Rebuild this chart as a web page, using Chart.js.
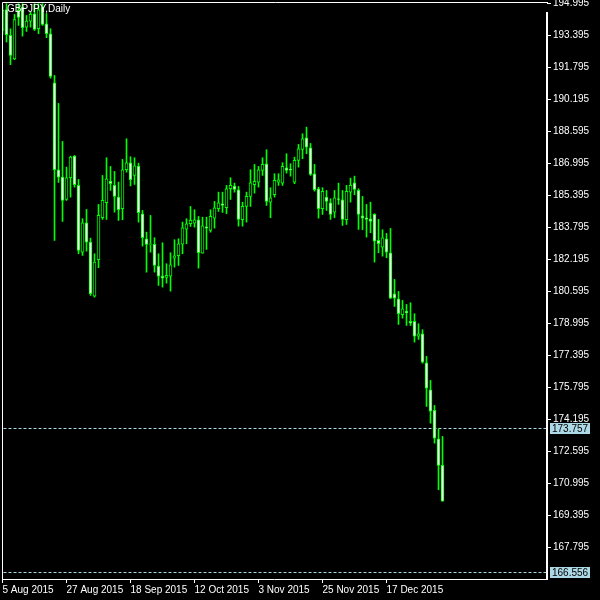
<!DOCTYPE html>
<html>
<head>
<meta charset="utf-8">
<title>GBPJPY Daily</title>
<script src="https://cdn.jsdelivr.net/npm/chart.js@4.4.1/dist/chart.umd.min.js"></script>
<style>
    html, body { margin: 0; padding: 0; background: #000; }
    canvas { display: block; }
</style>
</head>
<body>
<canvas id="price-chart" width="600" height="600"></canvas>
<script>
// Datos diarios GBPJPY
const symbolTitle = 'GBPJPY,Daily';

const openP = [
    193.66, 194.70, 193.41, 192.24, 194.66, 194.83, 193.825, 194.125, 194.495, 193.745,
    194.825, 193.995, 193.495, 191.045, 186.695, 186.325, 185.21, 186.295, 187.375, 185.91,
    182.575, 184.045, 183.075, 180.375, 182.195, 184.295, 185.045, 186.125, 185.91, 185.325,
    184.745, 186.695, 187.045, 186.41, 186.875, 184.495, 183.245, 182.96, 182.96, 181.875,
    181.375, 181.31, 181.375, 182.275, 182.395, 182.975, 183.725, 183.995, 184.025, 184.195,
    182.525, 183.845, 183.66, 184.275, 184.745, 184.995, 184.795, 185.745, 185.875, 185.695,
    184.195, 184.86, 185.36, 185.945, 186.075, 186.66, 186.995, 185.075, 185.445, 186.075,
    186.025, 186.795, 186.71, 186.075, 187.16, 187.71, 188.295, 187.795, 186.495, 185.745,
    184.745, 185.325, 185.045, 184.575, 185.245, 185.195, 184.195, 185.575, 186.045, 185.66,
    184.395, 184.295, 184.245, 184.46, 183.16, 182.825, 183.245, 182.545, 180.495, 180.245,
    179.445, 179.61, 179.11, 179.11, 178.375, 178.495, 177.045, 175.695, 174.66, 173.245, 171.91
];
const highP = [
    194.91, 194.995, 193.74, 194.46, 194.995, 194.995, 194.41, 194.575, 194.995, 194.995,
    194.995, 194.495, 193.745, 191.41, 190.01, 188.11, 186.825, 187.375, 187.41, 186.21,
    184.245, 184.71, 183.275, 182.495, 184.96, 186.41, 187.295, 186.86, 186.61, 186.075,
    187.21, 188.245, 187.345, 187.295, 187.025, 184.66, 183.575, 184.41, 183.295, 182.495,
    183.045, 181.995, 182.545, 183.195, 183.245, 184.075, 184.245, 184.86, 184.695, 184.36,
    184.325, 184.325, 184.695, 185.11, 185.575, 185.575, 185.91, 186.295, 186.025, 185.86,
    185.075, 185.575, 186.695, 186.96, 186.86, 187.295, 187.695, 185.795, 186.495, 186.495,
    187.045, 187.495, 186.995, 187.325, 187.96, 188.495, 188.825, 188.01, 186.96, 185.825,
    185.795, 185.66, 185.245, 185.66, 186.025, 185.66, 185.91, 186.275, 186.375, 185.745,
    185.36, 184.96, 185.075, 184.495, 184.21, 183.695, 183.51, 183.76, 181.21, 180.61,
    180.16, 179.96, 180.045, 179.495, 178.995, 178.695, 177.36, 176.16, 174.91, 173.745, 173.36
];
const lowP = [
    193.46, 193.08, 191.95, 192.20, 193.91, 193.375, 193.61, 193.825, 193.66, 193.495,
    193.91, 193.295, 191.275, 183.16, 186.06, 184.11, 185.16, 185.325, 185.825, 182.495,
    182.41, 182.625, 180.41, 180.325, 181.795, 184.21, 184.21, 185.66, 184.575, 184.16,
    184.195, 186.575, 185.885, 185.96, 184.075, 182.875, 181.575, 182.575, 181.575, 180.91,
    180.825, 181.025, 180.625, 181.825, 181.91, 182.495, 182.995, 183.86, 183.825, 181.775,
    182.525, 182.71, 183.575, 183.775, 184.61, 184.56, 184.495, 185.21, 185.575, 183.875,
    183.875, 184.075, 184.86, 185.525, 185.825, 186.41, 184.91, 184.295, 185.325, 185.91,
    185.91, 186.525, 186.375, 185.995, 186.825, 187.245, 187.495, 186.41, 185.625, 184.275,
    184.46, 184.66, 184.21, 184.295, 184.96, 183.91, 183.96, 185.075, 185.445, 183.71,
    183.695, 183.325, 183.545, 182.075, 182.545, 182.375, 182.295, 180.245, 179.86, 178.96,
    179.275, 178.91, 178.91, 178.075, 178.21, 177.025, 174.86, 174.025, 173.025, 170.695, 170.125
];
const closeP = [
    194.66, 193.45, 192.41, 194.20, 194.31, 193.795, 194.125, 194.46, 193.71, 194.695,
    193.96, 193.495, 191.36, 186.695, 186.325, 185.16, 186.295, 187.325, 185.945, 182.66,
    184.045, 183.075, 180.495, 182.075, 184.41, 185.16, 186.245, 185.995, 185.36, 184.695,
    186.695, 187.045, 186.195, 186.895, 184.545, 183.295, 182.96, 182.995, 181.91, 181.375,
    181.275, 181.41, 181.945, 182.395, 182.995, 183.795, 183.995, 184.16, 184.195, 182.545,
    183.895, 183.775, 184.36, 184.795, 185.045, 184.91, 185.745, 185.91, 185.71, 184.21,
    184.86, 185.36, 186.045, 186.11, 186.695, 186.96, 185.11, 185.295, 186.16, 186.195,
    186.86, 186.66, 186.675, 187.16, 187.745, 188.245, 187.825, 186.46, 185.695, 184.745,
    185.61, 185.11, 184.46, 185.295, 185.21, 184.21, 185.61, 185.91, 185.71, 184.46,
    184.275, 184.21, 184.11, 183.125, 182.995, 183.295, 182.575, 180.275, 180.275, 179.495,
    179.745, 179.545, 179.025, 178.375, 178.495, 177.075, 175.775, 174.625, 173.275, 171.91, 170.125
];

// Etiquetas de los ejes
const dateLabels = ['5 Aug 2015', '27 Aug 2015', '18 Sep 2015', '12 Oct 2015', '3 Nov 2015', '25 Nov 2015', '17 Dec 2015'];
const dateIdx = [0, 16, 32, 48, 64, 80, 96];
const priceTicks = [194.995, 193.395, 191.795, 190.195, 188.595, 186.995, 185.395, 183.795, 182.195,
    180.595, 178.995, 177.395, 175.795, 174.195, 172.595, 170.995, 169.395, 167.795];

// Líneas horizontales (precio actual / mínimo)
const levelValues = [173.757, 166.556];

const LIME = '#00ff00';
const LEVEL = '#add8e6';
const FONT = '"Liberation Sans", Arial, sans-serif';

// Dibuja marco, título y etiquetas de nivel
const framePlugin = {
    id: 'frame',
    afterDraw(chart) {
        const ctx = chart.ctx;
        const a = chart.chartArea;
        const y = chart.scales.y;
        ctx.save();
        ctx.strokeStyle = '#fff';
        ctx.lineWidth = 1;
        ctx.beginPath();
        ctx.moveTo(a.left + 0.5, a.bottom + 0.5);
        ctx.lineTo(a.left + 0.5, a.top + 0.5);
        ctx.lineTo(a.right + 1, a.top + 0.5);
        ctx.moveTo(a.left, a.bottom + 0.5);
        ctx.lineTo(a.right, a.bottom + 0.5);
        ctx.stroke();
        ctx.lineWidth = 2;
        ctx.beginPath();
        ctx.moveTo(a.right, a.top + 10);
        ctx.lineTo(a.right, a.bottom + 1);
        ctx.stroke();

        ctx.font = '10px ' + FONT;
        ctx.textBaseline = 'top';
        ctx.fillStyle = '#fff';
        ctx.fillText(symbolTitle, 7, 4);

        ctx.textBaseline = 'middle';
        levelValues.forEach(v => {
            const py = Math.floor(y.getPixelForValue(v));
            ctx.fillStyle = LEVEL;
            ctx.fillRect(a.right + 3, py - 5, 40, 11);
            ctx.fillStyle = '#000';
            ctx.fillText(v.toFixed(3), a.right + 5, py + 1);
        });
        ctx.restore();
    }
};

const ctx = document.getElementById('price-chart').getContext('2d');
new Chart(ctx, {
    data: {
        datasets: [
            {
                type: 'bar',
                data: openP.map((o, i) => ({ x: i, y: [o, closeP[i]] })),
                backgroundColor: openP.map((o, i) => closeP[i] < o ? '#ffffff' : '#000000'),
                borderColor: LIME,
                borderWidth: 1,
                borderSkipped: false,
                barThickness: 3,
                grouped: false,
                order: 0
            },
            {
                type: 'bar',
                data: lowP.map((l, i) => ({ x: i, y: [l, highP[i]] })),
                backgroundColor: LIME,
                borderWidth: 0,
                barThickness: 1,
                grouped: false,
                order: 1
            },
            ...levelValues.map(v => ({
                type: 'line',
                data: [{ x: -1, y: v }, { x: 140, y: v }],
                borderColor: LEVEL,
                borderWidth: 1,
                borderDash: [3, 2],
                pointRadius: 0,
                order: 2
            }))
        ]
    },
    options: {
        responsive: false,
        animation: false,
        devicePixelRatio: 1,
        layout: { padding: { left: 2, top: 2, right: 0, bottom: 0 } },
        plugins: {
            legend: { display: false },
            tooltip: { enabled: false }
        },
        scales: {
            x: {
                type: 'linear',
                min: -0.125,
                max: 136.125,
                offset: false,
                grid: { offset: false, drawOnChartArea: false, drawTicks: true, tickLength: 4, color: '#fff' },
                border: { display: false },
                ticks: {
                    autoSkip: false,
                    maxRotation: 0,
                    align: 'start',
                    padding: 1,
                    color: '#fff',
                    font: { family: FONT, size: 10 },
                    callback: value => dateLabels[dateIdx.indexOf(value)] || ''
                },
                afterBuildTicks: axis => { axis.ticks = dateIdx.map(v => ({ value: v })); },
                afterFit: axis => { axis.height = 21; axis.paddingLeft = 0; axis.paddingRight = 0; }
            },
            y: {
                type: 'linear',
                position: 'right',
                min: 166.232,
                max: 195.082,
                grid: { drawOnChartArea: false, drawTicks: true, tickLength: 4, color: '#fff' },
                border: { display: false },
                ticks: {
                    autoSkip: false,
                    padding: 2,
                    color: '#fff',
                    font: { family: FONT, size: 10 },
                    callback: value => value.toFixed(3)
                },
                afterBuildTicks: axis => { axis.ticks = priceTicks.map(v => ({ value: v })); },
                afterFit: axis => { axis.width = 53; axis.paddingTop = 0; axis.paddingBottom = 0; }
            }
        }
    },
    plugins: [framePlugin]
});
</script>
</body>
</html>
